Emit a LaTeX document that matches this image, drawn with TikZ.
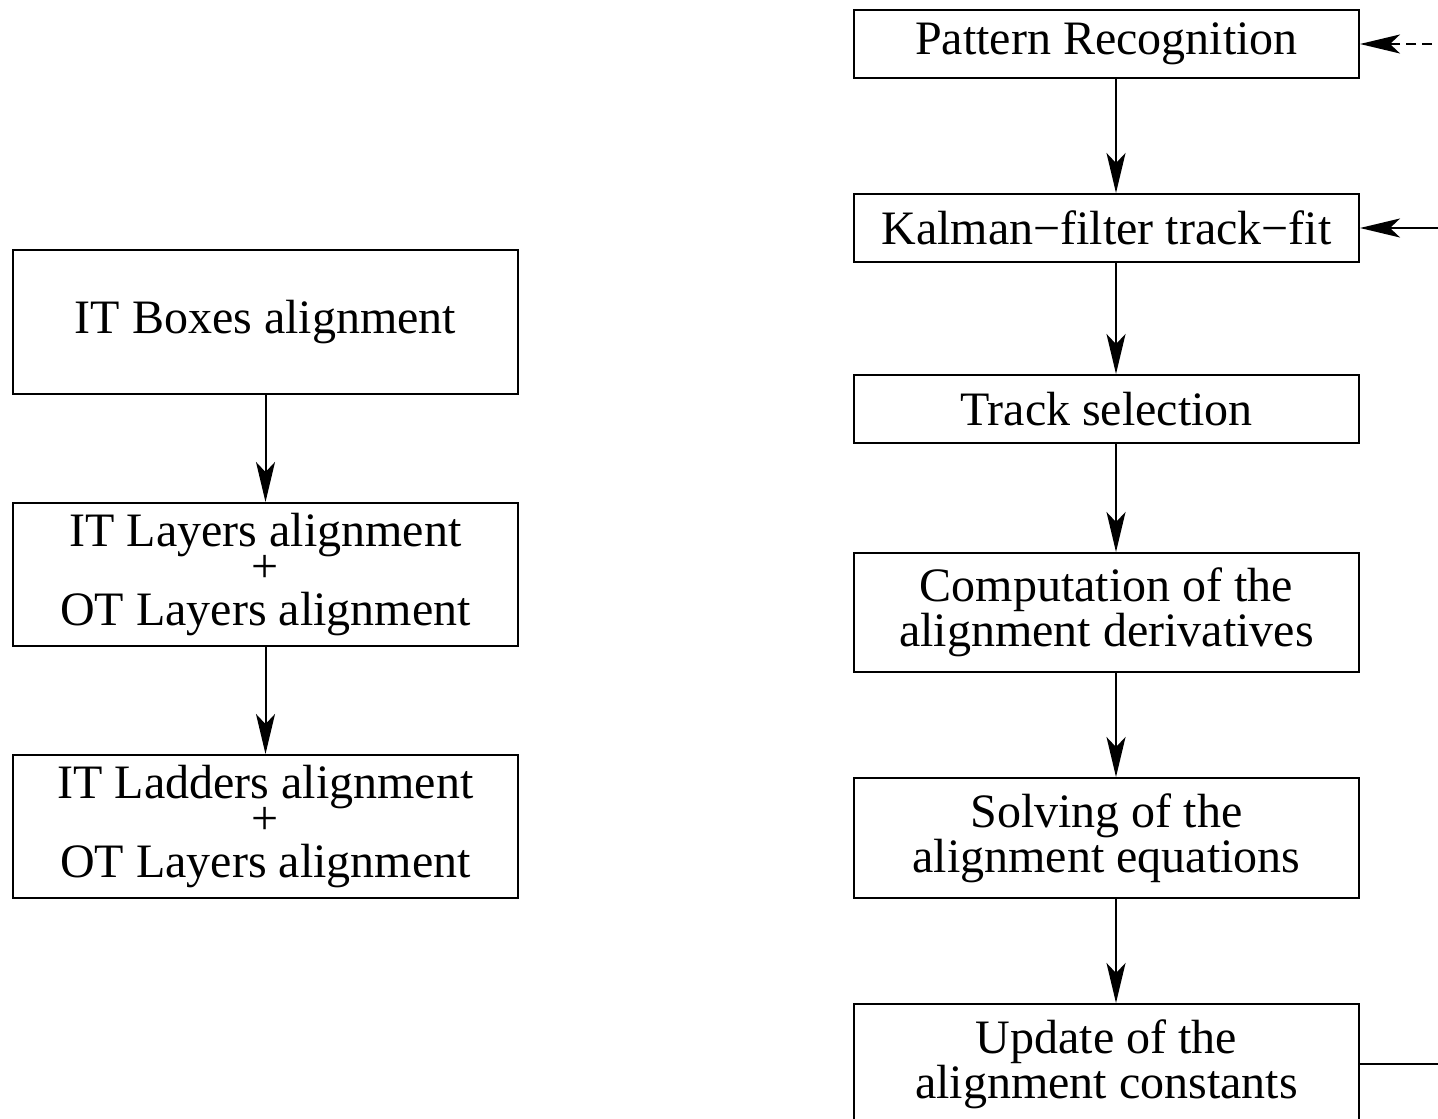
\documentclass[tikz,border=0pt]{standalone}
\usepackage{fontspec}
\setmainfont{Liberation Serif}
\usetikzlibrary{arrows.meta}

\tikzset{
  stepbox/.style={draw, line width=1pt, minimum width=252.5pt, inner sep=0pt,
    align=center, font=\fontsize{24}{22.5}\selectfont},
  flow/.style={line width=1pt, -{Stealth[length=20pt,width=9.5pt,inset=5pt]}},
}

\begin{document}
\begin{tikzpicture}[x=0.5pt,y=-0.5pt]
  \useasboundingbox (0,0) rectangle (1438,1118);
  \clip (0,0) rectangle (1438,1118);

  % left: alignment sequence
  \node[stepbox, minimum height=72pt] (boxes) at (265.5,322) {IT Boxes alignment};
  \node[stepbox, minimum height=71.5pt] (layers) at (265.5,574.5)
    {IT Layers alignment\\[-4.5pt]+\\[-1pt]OT Layers alignment};
  \node[stepbox, minimum height=71.5pt] (ladders) at (265.5,826.5)
    {IT Ladders alignment\\[-4.5pt]+\\[-1pt]OT Layers alignment};

  \draw[flow] (boxes) -- (layers);
  \draw[flow] (layers) -- (ladders);

  % right: one iteration
  \node[stepbox, minimum height=34pt] (patrec) at (1106.5,44) {Pattern Recognition};
  \node[stepbox, minimum height=34pt] (kalman) at (1106.5,228) {Kalman−filter track−fit};
  \node[stepbox, minimum height=34pt] (tracksel) at (1106.5,409) {Track selection};
  \node[stepbox, minimum height=59.5pt] (deriv) at (1106.5,612.5)
    {Computation of the\\alignment derivatives};
  \node[stepbox, minimum height=60pt] (solve) at (1106.5,838)
    {Solving of the\\alignment equations};
  \node[stepbox, minimum height=60pt] (update) at (1106.5,1064)
    {Update of the\\alignment constants};

  \draw[flow] ([xshift=4.75pt]patrec.south) -- ([xshift=4.75pt]kalman.north);
  \draw[flow] ([xshift=4.75pt]kalman.south) -- ([xshift=4.75pt]tracksel.north);
  \draw[flow] ([xshift=4.75pt]tracksel.south) -- ([xshift=4.75pt]deriv.north);
  \draw[flow] ([xshift=4.75pt]deriv.south) -- ([xshift=4.75pt]solve.north);
  \draw[flow] ([xshift=4.75pt]solve.south) -- ([xshift=4.75pt]update.north);

  % feedback loop (runs off the right edge)
  \coordinate (rail) at (1480,228);
  \coordinate (railtop) at (1480,44);
  \draw[line width=1pt] (update.east) -| (rail);
  \draw[flow] (rail) -- (kalman.east);
  \draw[flow, dash pattern=on 5pt off 3pt] (railtop) -- (patrec.east);
\end{tikzpicture}
\end{document}
